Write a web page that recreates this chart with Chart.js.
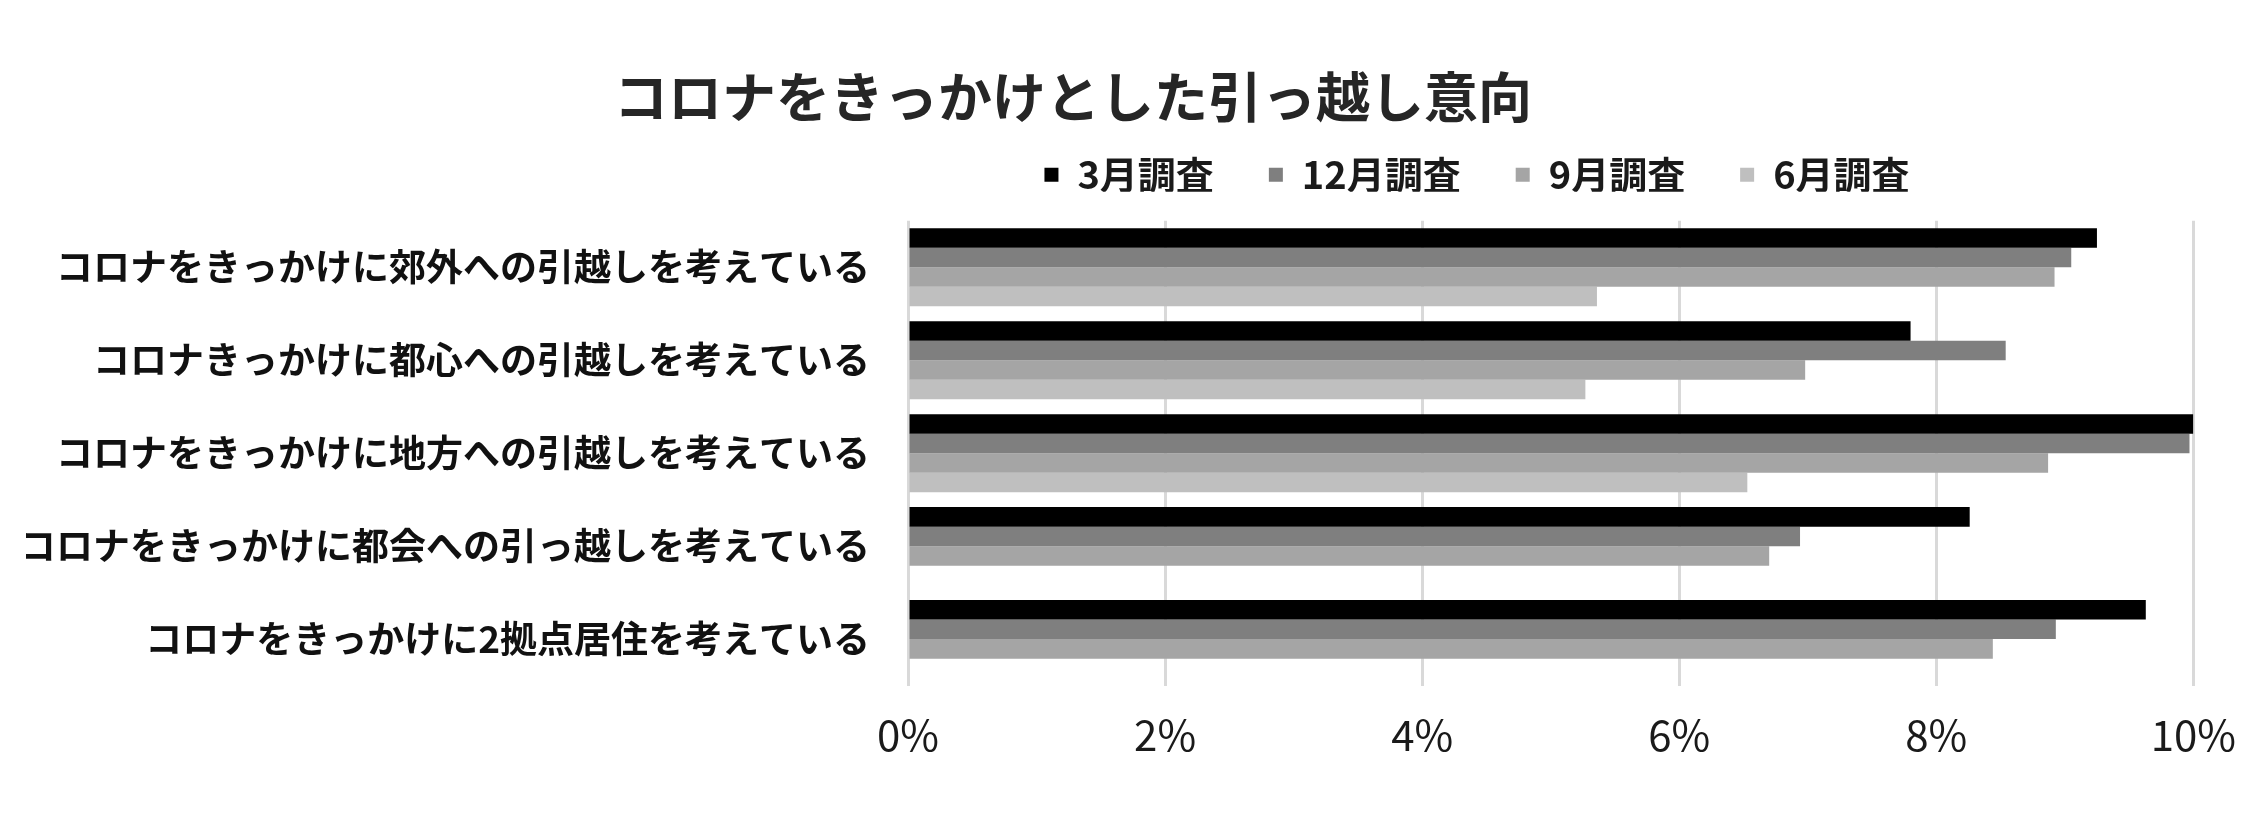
<!DOCTYPE html>
<html>
<head>
<meta charset="utf-8">
<script src="https://cdn.jsdelivr.net/npm/chart.js@4"></script>
<style>
  html, body { margin: 0; padding: 0; background: #ffffff; }
  #wrap { width: 2260px; height: 838px; position: relative; }
</style>
</head>
<body>
<div id="wrap"><canvas id="c"></canvas></div>
<script>
const chartTitle = 'コロナをきっかけとした引っ越し意向';
const categories = [
  'コロナをきっかけに郊外への引越しを考えている',
  'コロナきっかけに都心への引越しを考えている',
  'コロナをきっかけに地方への引越しを考えている',
  'コロナをきっかけに都会への引っ越しを考えている',
  'コロナをきっかけに2拠点居住を考えている'
];
const seriesNames = ['3月調査', '12月調査', '9月調査', '6月調査'];
const marValues = [9.25, 7.80, 10.0, 8.26, 9.63];
const decValues = [9.05, 8.54, 9.97, 6.94, 8.93];
const sepValues = [8.92, 6.98, 8.87, 6.70, 8.44];
const junValues = [5.36, 5.27, 6.53, null, null];
const xTicks = [0, 2, 4, 6, 8, 10];

const colors = ['#000000', '#7f7f7f', '#a5a5a5', '#bfbfbf'];
const seriesValues = [marValues, decValues, sepValues, junValues];

const FONT = "'Noto Sans CJK JP', 'Noto Sans', sans-serif";

const nudge = {
  id: 'nudge',
  afterLayout(chart) {
    const t = chart.titleBlock;
    if (t) { t.left -= 38; t.right -= 38; }
    const l = chart.legend;
    if (l) { l.left += 366; l.right += 366; l.top -= 29; l.bottom -= 29; }
  }
};

new Chart(document.getElementById('c'), {
  type: 'bar',
  data: {
    labels: categories,
    datasets: seriesNames.map((name, i) => ({
      label: name,
      data: seriesValues[i],
      backgroundColor: colors[i],
      borderWidth: 0,
      categoryPercentage: 0.84,
      barPercentage: 1.0
    }))
  },
  options: {
    indexAxis: 'y',
    responsive: true,
    maintainAspectRatio: false,
    animation: false,
    layout: { padding: { left: 26, right: 64, top: 0, bottom: 54 } },
    plugins: {
      title: {
        display: true,
        text: chartTitle,
        color: '#262626',
        font: { family: FONT, size: 54, weight: 'bold', lineHeight: 1.2 },
        padding: { top: 65, bottom: 0 }
      },
      legend: {
        display: true,
        position: 'top',
        maxHeight: 91,
        labels: {
          color: '#1a1a1a',
          font: { family: FONT, size: 38, weight: 'bold' },
          boxWidth: 14,
          boxHeight: 14,
          padding: 55
        }
      },
      tooltip: { enabled: false }
    },
    scales: {
      x: {
        type: 'linear',
        min: 0,
        max: 10,
        afterBuildTicks(scale) { scale.ticks = xTicks.map(v => ({ value: v })); },
        grid: { color: '#d9d9d9', lineWidth: 3, drawTicks: false },
        border: { display: false },
        ticks: {
          color: '#1a1a1a',
          padding: 24,
          font: { family: FONT, size: 42 },
          callback: (v) => v + '%'
        }
      },
      y: {
        grid: { display: false },
        border: { display: false },
        afterFit(scale) { scale.width = 882; },
        ticks: {
          color: '#111111',
          padding: 30,
          font: { family: FONT, size: 37, weight: 'bold' }
        }
      }
    }
  },
  plugins: [nudge]
});
</script>
</body>
</html>
